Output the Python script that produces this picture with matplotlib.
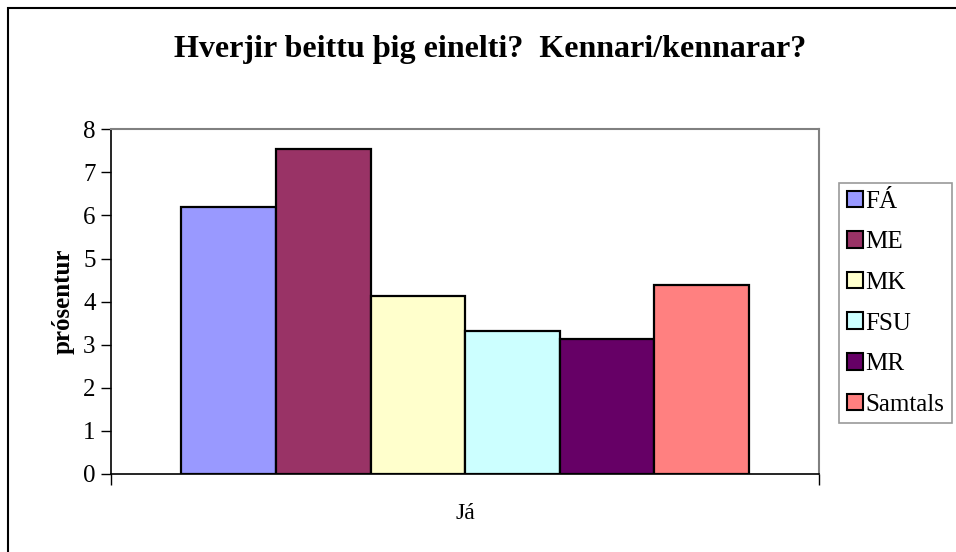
import matplotlib
matplotlib.use("Agg")
import matplotlib.pyplot as plt
from matplotlib.patches import Rectangle, Patch

plt.rcParams['font.family'] = ['Liberation Serif', 'DejaVu Serif']

# data
category = "Já"
groups = ["FÁ", "ME", "MK", "FSU", "MR", "Samtals"]
values = [6.2, 7.54, 4.13, 3.33, 3.14, 4.38]
colors = ["#9999FF", "#993366", "#FFFFCC", "#CCFFFF", "#660066", "#FF8080"]
yticks = [0, 1, 2, 3, 4, 5, 6, 7, 8]

W, H = 956, 552
fig = plt.figure(figsize=(W / 100, H / 100), dpi=100)

# outer chart border (only top/left are inside the picture)
fig.patches.append(Rectangle((8 / W, -0.1), 1.2, 1 - 8 / H + 0.1,
                             transform=fig.transFigure, fill=False,
                             edgecolor="black", linewidth=1.5))

ax = fig.add_axes([111 / W, 1 - 474 / H, (819 - 111) / W, (474 - 129.3) / H])

bar_w = 94.5 / 708
start = -len(groups) * bar_w / 2
for i, (g, v, c) in enumerate(zip(groups, values, colors)):
    ax.bar(start + (i + 0.5) * bar_w, v, width=bar_w, color=c,
           edgecolor="black", linewidth=1.6, label=g, zorder=3)

ax.set_xlim(-0.5, 0.5)
ax.set_ylim(0, 8)
ax.set_yticks(yticks)
ax.set_xticks([-0.5, 0.5])
ax.set_xticklabels(["", ""])
ax.tick_params(axis="y", direction="out", length=7, width=1, labelsize=18, pad=4)
ax.tick_params(axis="x", direction="out", length=8, width=1)

for s in ["top", "right"]:
    ax.spines[s].set_color("#808080")
    ax.spines[s].set_linewidth(1.5)
for s in ["left", "bottom"]:
    ax.spines[s].set_color("black")
    ax.spines[s].set_linewidth(1.2)

ax.set_ylabel("prósentur", fontsize=18, fontweight="bold", labelpad=6)
ax.text(0, -0.115, category, transform=ax.get_xaxis_transform(),
        ha="center", va="center", fontsize=17)

fig.text(490 / W, 1 - 50 / H, "Hverjir beittu þig einelti?  Kennari/kennarar?",
         ha="center", va="center", fontsize=23, fontweight="bold")

handles = [Patch(facecolor=c, edgecolor="black", linewidth=1.5) for c in colors]
leg = fig.legend(handles, groups, loc="upper left",
                 bbox_to_anchor=(839 / W, 1 - 183 / H), fontsize=18,
                 frameon=True, fancybox=False, edgecolor="#808080",
                 handlelength=0.65, handleheight=0.65, handletextpad=0.1,
                 labelspacing=0.74, borderpad=0.3, borderaxespad=0)
leg.get_frame().set_linewidth(1.2)

fig.savefig("out.png", dpi=100)
